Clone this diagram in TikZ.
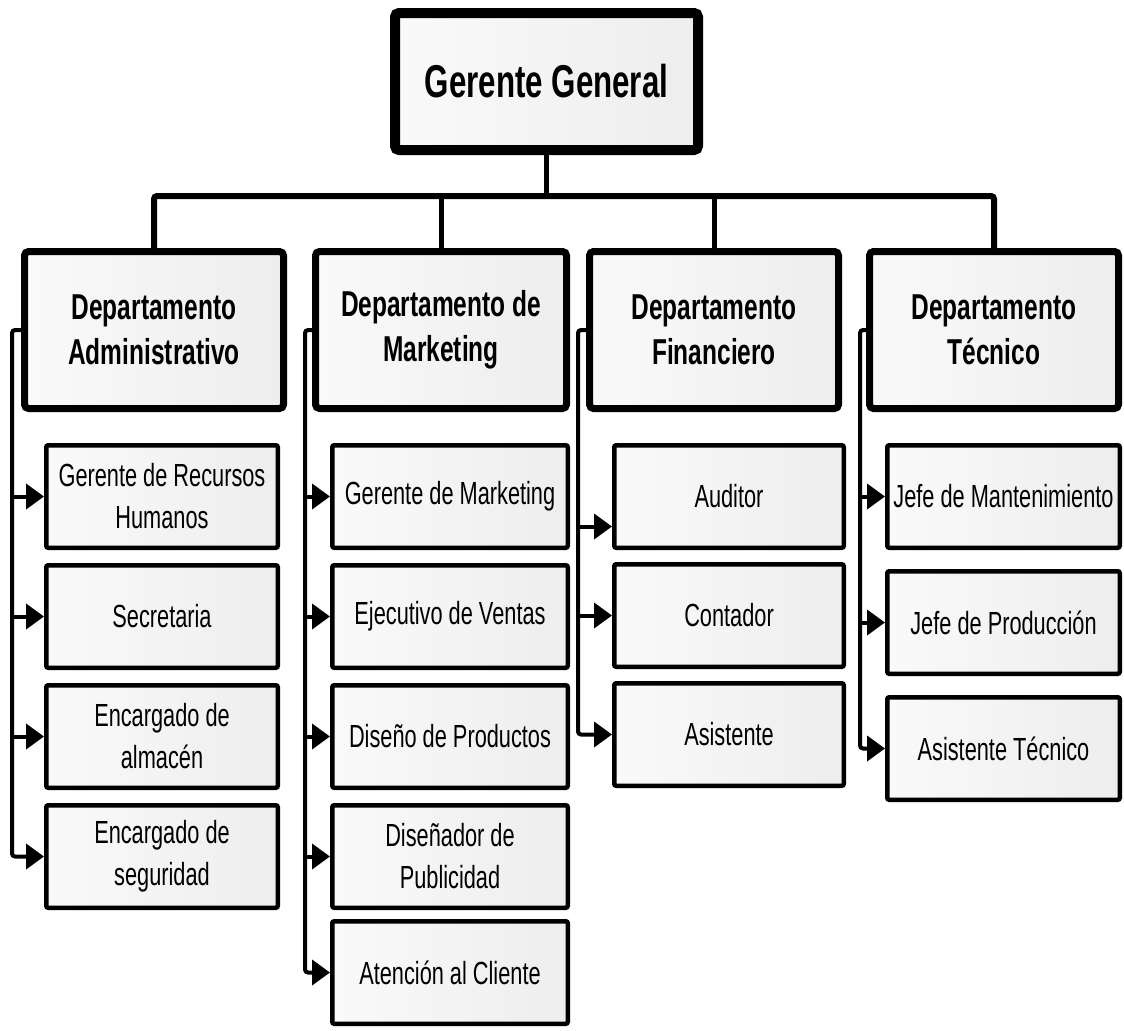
\documentclass[tikz,border=0pt]{standalone}
\usepackage{fontspec}
\setmainfont{Liberation Sans}[FakeStretch=0.68]
\usepackage{tikz}
\usetikzlibrary{arrows.meta}
\tikzstyle{gerente} = [rectangle, rounded corners=2pt, minimum width=151.5pt, minimum height=68.5pt, inner sep=0pt, text centered, draw=black, line width=5pt, left color=gray!4, right color=gray!14, font=\bfseries\fontsize{23}{27}\selectfont]
\tikzstyle{depto} = [rectangle, rounded corners=2pt, minimum height=78.5pt, inner sep=0pt, align=center, draw=black, line width=3.5pt, left color=gray!4, right color=gray!14, font=\bfseries\fontsize{18}{22.5}\selectfont]
\tikzstyle{cargo} = [rectangle, rounded corners=1pt, minimum height=51.25pt, inner sep=0pt, align=center, draw=black, line width=2.25pt, left color=gray!4, right color=gray!14, font=\fontsize{16}{21}\selectfont]
\tikzstyle{link} = [line width=2.5pt, rounded corners=1.5pt]
\tikzstyle{arrow} = [line width=2pt, rounded corners=1.5pt, -{Triangle[length=9pt, width=12.5pt]}]

\begin{document}
\begin{tikzpicture}[x=0.5pt, y=-0.5pt, node distance=60pt]
\useasboundingbox (0,0) rectangle (1124,1030);
\node(gg) [gerente] at (546.5,81.5) {Gerente General};
%----------------------------------------------------%
\node(adm) [depto, minimum width=129.5pt] at (154,330) {Departamento\\Administrativo};
\node(mkt) [depto, minimum width=125.5pt] at (441,330) {Departamento de\\Marketing};
\node(fin) [depto, minimum width=124.5pt] at (714,330) {Departamento\\Financiero};
\node(tec) [depto, minimum width=124.5pt] at (994,330) {Departamento\\Técnico};

\coordinate(bus) at (546.5,196);
\draw[link] (gg.south) -- (gg.south |- bus);
\draw[link, line width=3pt] (adm.north) |- (bus) -| (tec.north);
\draw[link] (mkt.north) -- (mkt.north |- bus);
\draw[link] (fin.north) -- (fin.north |- bus);

%----------------------------------------------------%
\node(rrhh) [cargo, minimum width=115.75pt] at (162,496.5) {Gerente de Recursos\\Humanos};
\node(secr) [cargo, minimum width=115.75pt, below of=rrhh] {Secretaria};
\node(alma) [cargo, minimum width=115.75pt, below of=secr] {Encargado de\\almacén};
\node(segu) [cargo, minimum width=115.75pt, below of=alma] {Encargado de\\seguridad};

\coordinate(admv) at (12,330);
\draw[arrow] (adm.west) -- (admv) |- (segu.west);
\draw[arrow] (admv |- rrhh.west) -- (rrhh.west);
\draw[arrow] (admv |- secr.west) -- (secr.west);
\draw[arrow] (admv |- alma.west) -- (alma.west);

%----------------------------------------------------%
\node(gmkt) [cargo, minimum width=117.75pt] at (450,496.5) {Gerente de Marketing};
\node(vent) [cargo, minimum width=117.75pt, below of=gmkt] {Ejecutivo de Ventas};
\node(prod) [cargo, minimum width=117.75pt, below of=vent] {Diseño de Productos};
\node(publ) [cargo, minimum width=117.75pt, below of=prod] {Diseñador de\\Publicidad};
\node(clie) [cargo, minimum width=117.75pt, below of=publ, yshift=2pt] {Atención al Cliente};

\coordinate(mktv) at (305,330);
\draw[arrow] (mkt.west) -- (mktv) |- (clie.west);
\draw[arrow] (mktv |- gmkt.west) -- (gmkt.west);
\draw[arrow] (mktv |- vent.west) -- (vent.west);
\draw[arrow] (mktv |- prod.west) -- (prod.west);
\draw[arrow] (mktv |- publ.west) -- (publ.west);

%----------------------------------------------------%
\node(audi) [cargo, minimum width=114.75pt] at (729,496.5) {Auditor};
\node(cont) [cargo, minimum width=114.75pt, below of=audi, node distance=59.5pt] {Contador};
\node(asis) [cargo, minimum width=114.75pt, below of=cont, node distance=59.5pt] {Asistente};

\coordinate(finv) at (578,330);
\coordinate(audin) at ([yshift=-15pt]audi.west);
\draw[arrow] (fin.west) -- (finv) |- (asis.west);
\draw[arrow] (finv |- audin) -- (audin);
\draw[arrow] (finv |- cont.west) -- (cont.west);

%----------------------------------------------------%
\node(mant) [cargo, minimum width=116.25pt] at (1003.5,496.5) {Jefe de Mantenimiento};
\node(jprod) [cargo, minimum width=116.25pt, below of=mant, node distance=63pt] {Jefe de Producción};
\node(atec) [cargo, minimum width=116.25pt, below of=jprod, node distance=63pt] {Asistente Técnico};

\coordinate(tecv) at (860,330);
\draw[arrow] (tec.west) -- (tecv) |- (atec.west);
\draw[arrow] (tecv |- mant.west) -- (mant.west);
\draw[arrow] (tecv |- jprod.west) -- (jprod.west);
\end{tikzpicture}
\end{document}
